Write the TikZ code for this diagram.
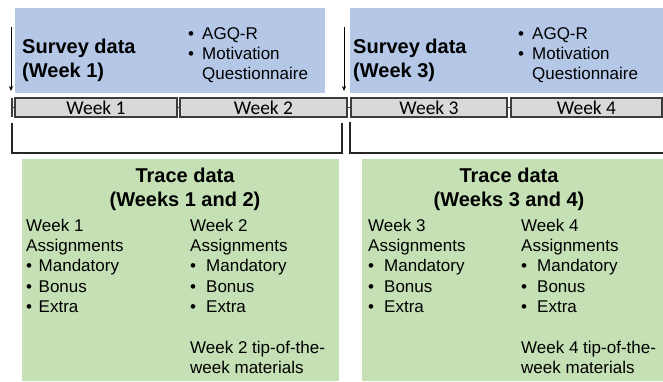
\documentclass[tikz,border=0pt]{standalone}
\usepackage{fontspec}
\setmainfont{Liberation Sans}
\newfontfamily\weekfont{Carlito}
\usetikzlibrary{arrows.meta}

\definecolor{surveyblue}{HTML}{B4C7E7}
\definecolor{tracegreen}{HTML}{C5E0B4}
\definecolor{bargray}{HTML}{D9D9D9}
\definecolor{barline}{HTML}{3C3C3C}

% text sizes
\newcommand{\headfont}{\fontsize{20}{24}\selectfont\bfseries}
\newcommand{\bodyfont}{\fontsize{17}{20.4}\selectfont}
% bullet item with a given hanging indent
\newcommand{\bul}[2]{\makebox[#1][l]{\textbullet}#2}
% text block whose baseline is its first line
\newcommand{\block}[2]{\parbox[t]{#1}{\raggedright #2}}

\begin{document}
\begin{tikzpicture}[x=1pt,y=-1pt,
  box/.style={anchor=north west, inner sep=0pt, outer sep=0pt},
  surveybox/.style={box, fill=surveyblue, minimum height=85pt},
  tracebox/.style={box, fill=tracegreen, minimum height=222pt},
  weekseg/.style={box, fill=bargray, draw=barline, line width=1.1pt,
    minimum height=19pt, font=\weekfont\fontsize{19.5}{20}\selectfont},
  barlink/.style={draw=barline, line width=1.1pt},
  bracket/.style={draw=black!85, line width=1.4pt},
  startarrow/.style={draw=black, line width=0.8pt, -{Stealth[length=5pt,width=4pt]}},
  txt/.style={anchor=base west, inner sep=0pt},
  ctxt/.style={anchor=base, inner sep=0pt}]

\useasboundingbox (0,0) rectangle (663,381);
\fill[white] (0,0) rectangle (663,381);

% survey panels
\node[surveybox, minimum width=310pt] (survey1) at (15,8) {};
\node[surveybox, minimum width=313pt] (survey2) at (350,8) {};

% trace panels
\node[tracebox, minimum width=317pt] (trace1) at (22,159) {};
\node[tracebox, minimum width=301pt] (trace2) at (362,159) {};

% timeline
\node[weekseg, minimum width=162pt] (wk1) at (15,98) {Week 1};
\node[weekseg, minimum width=167pt] (wk2) at (180,98) {Week 2};
\node[weekseg, minimum width=156pt] (wk3) at (351,98) {Week 3};
\node[weekseg, minimum width=151pt] (wk4) at (511,98) {Week 4};
\coordinate (tickTop) at (12,98);
\coordinate (tickBot) at (12,117);
\draw[barlink] (tickTop) -- (tickBot);
\draw[barlink] (wk1.west) -- (wk1.west -| tickTop);
\draw[barlink] (wk1.east) -- (wk2.west);
\draw[barlink] (wk2.east) -- (wk3.west);
\draw[barlink] (wk3.east) -- (wk4.west);

% survey start arrows
\coordinate (arrA) at (11,27);
\coordinate (arrAend) at (11,91);
\coordinate (arrB) at (344,27);
\coordinate (arrBend) at (344,91);
\draw[startarrow] (arrA) -- (arrAend);
\draw[startarrow] (arrB) -- (arrBend);

% brackets under the timeline
\coordinate (brA1) at (12,123);
\coordinate (brA2) at (12,153);
\coordinate (brA3) at (342,153);
\coordinate (brA4) at (342,123);
\draw[bracket] (brA1) -- (brA2) -- (brA3) -- (brA4);
\coordinate (brB1) at (350,122);
\coordinate (brB2) at (350,153);
\coordinate (brB3) at (663,153);
\draw[bracket] (brB1) -- (brB2) -- (brB3);

% survey texts
\node[txt] (s1title) at (22,53) {\block{160pt}{\headfont Survey data\\(Week 1)}};
\node[txt] (s1items) at (188,39) {\block{140pt}{\bodyfont
  \bul{14pt}{AGQ-R}\\\bul{14pt}{Motivation}\\\hspace*{14pt}Questionnaire}};
\node[txt] (s2title) at (353,53) {\block{160pt}{\headfont Survey data\\(Week 3)}};
\node[txt] (s2items) at (518,39) {\block{140pt}{\bodyfont
  \bul{14pt}{AGQ-R}\\\bul{14pt}{Motivation}\\\hspace*{14pt}Questionnaire}};

% trace texts, weeks 1 and 2
\node[ctxt] (t1title) at (185,182) {\block{300pt}{\centering\headfont Trace data\\(Weeks 1 and 2)}};
\node[txt] (t1a) at (26,231) {\block{160pt}{\bodyfont Week 1\\Assignments\\
  \bul{12.5pt}{Mandatory}\\\bul{12.5pt}{Bonus}\\\bul{12.5pt}{Extra}}};
\node[txt] (t1b) at (190,231) {\block{170pt}{\bodyfont Week 2\\Assignments\\
  \bul{16pt}{Mandatory}\\\bul{16pt}{Bonus}\\\bul{16pt}{Extra}\\\mbox{}\\
  Week 2 tip-of-the-\\week materials}};

% trace texts, weeks 3 and 4
\node[ctxt] (t2title) at (509,182) {\block{300pt}{\centering\headfont Trace data\\(Weeks 3 and 4)}};
\node[txt] (t2a) at (368,231) {\block{160pt}{\bodyfont Week 3\\Assignments\\
  \bul{16pt}{Mandatory}\\\bul{16pt}{Bonus}\\\bul{16pt}{Extra}}};
\node[txt] (t2b) at (521,231) {\block{170pt}{\bodyfont Week 4\\Assignments\\
  \bul{16pt}{Mandatory}\\\bul{16pt}{Bonus}\\\bul{16pt}{Extra}\\\mbox{}\\
  Week 4 tip-of-the-\\week materials}};

\end{tikzpicture}
\end{document}
